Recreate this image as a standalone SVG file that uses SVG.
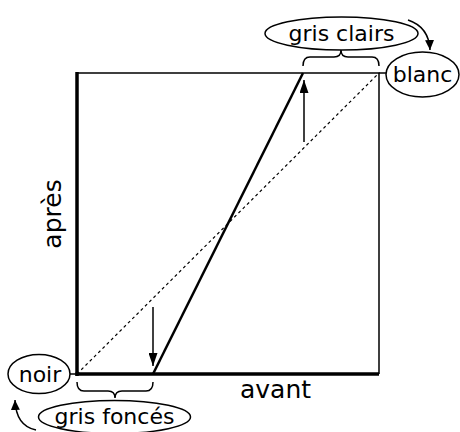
<svg xmlns="http://www.w3.org/2000/svg" width="460" height="432" viewBox="0 0 460 432">
<style>
text{font-family:"DejaVu Sans",sans-serif;fill:#000}
.lab{font-size:22px;text-anchor:middle}
.ax{font-size:25px;text-anchor:middle}
.el{fill:#fff;stroke:#000;stroke-width:1.5}
.thin{fill:none;stroke:#000;stroke-width:1.5}
</style>
<defs>
<marker id="ah" viewBox="0 0 10 10" refX="10" refY="5" markerWidth="10" markerHeight="10" markerUnits="userSpaceOnUse" orient="auto">
<path d="M0,0.5 L10,5 L0,9.5 Z" fill="#000"/>
</marker>
<marker id="ah2" viewBox="0 0 13 9" refX="13" refY="4.5" markerWidth="13" markerHeight="9" markerUnits="userSpaceOnUse" orient="auto">
<path d="M0,0 L13,4.5 L0,9 Z" fill="#000"/>
</marker>
</defs>
<g id="chart">
<path d="M77,73 H379 V374" class="thin"/>
<line x1="77" y1="72" x2="77" y2="376" stroke="#000" stroke-width="3.5"/>
<line x1="75.5" y1="374" x2="379" y2="374" stroke="#000" stroke-width="3.5"/>
<line x1="77" y1="374" x2="379" y2="73" stroke="#000" stroke-width="1.2" stroke-dasharray="3,3"/>
<line x1="153" y1="374" x2="303" y2="73" stroke="#000" stroke-width="2.5"/>
<text class="ax" transform="translate(61,214) rotate(-90)">après</text>
<text class="ax" x="275.5" y="398">avant</text>
</g>
<g id="connectors">
<line x1="153" y1="307" x2="153" y2="366" class="thin" marker-end="url(#ah2)"/>
<line x1="304" y1="142" x2="304" y2="80" class="thin" marker-end="url(#ah2)"/>
<path d="M303,66 Q303,57 310,57 L334,57 Q341,57 341,50 Q341,57 348,57 L372,57 Q379,57 379,66" class="thin"/>
<path d="M77,382 Q77,391 84,391 L108,391 Q115,391 115,398 Q115,391 122,391 L146,391 Q153,391 153,382" class="thin"/>
<line x1="379" y1="73" x2="386" y2="73" class="thin"/>
<line x1="70" y1="374" x2="77" y2="374" class="thin"/>
<path d="M408,20 Q429,27 430,50" class="thin" marker-end="url(#ah)"/>
<path d="M36,430 Q16,426 15,400" class="thin" marker-end="url(#ah)"/>
</g>
<g id="gris-clairs">
<ellipse cx="341.5" cy="33.5" rx="76.5" ry="16.5" class="el"/>
<text class="lab" x="341.5" y="40.5">gris clairs</text>
</g>
<g id="blanc">
<ellipse cx="422.5" cy="74.5" rx="36.5" ry="22.5" class="el"/>
<text class="lab" x="422.5" y="81.5">blanc</text>
</g>
<g id="noir">
<ellipse cx="39" cy="374" rx="31" ry="19.5" class="el"/>
<text class="lab" x="40" y="381.5">noir</text>
</g>
<g id="gris-fonces">
<ellipse cx="114.5" cy="417" rx="76" ry="16.5" class="el"/>
<text class="lab" x="114.5" y="424">gris foncés</text>
</g>
</svg>
